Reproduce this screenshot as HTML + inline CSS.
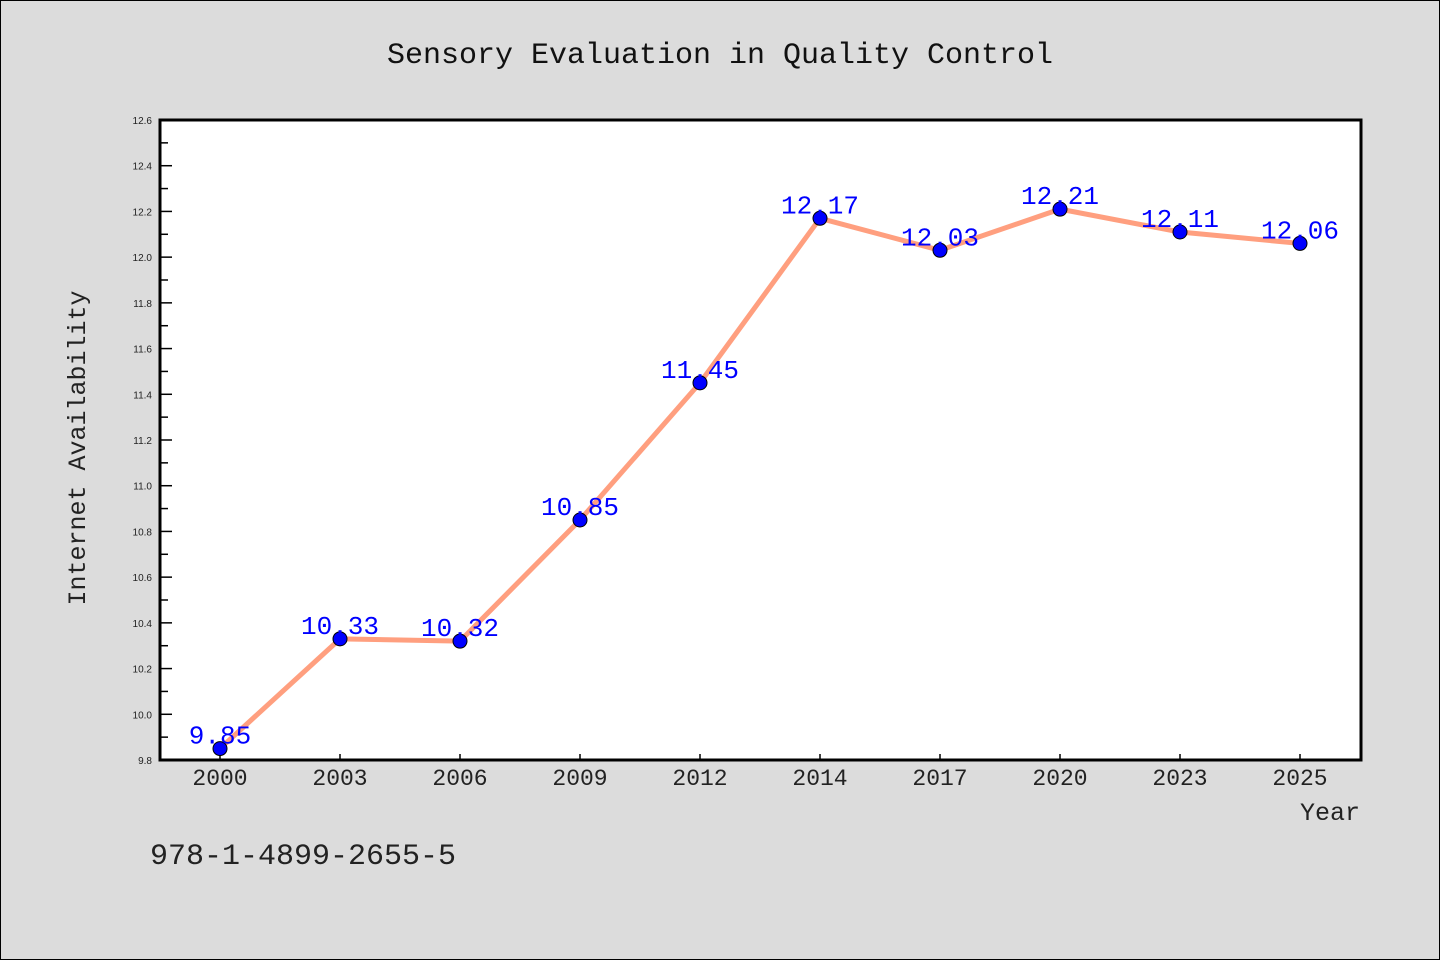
<!DOCTYPE html>
<html><head><meta charset="utf-8"><style>
html,body{margin:0;padding:0;background:#dcdcdc}
svg{display:block}
text{font-family:"Liberation Mono","DejaVu Sans Mono",monospace}
</style></head><body>
<svg id="chart" width="1440" height="960" viewBox="0 0 1440 960" xmlns="http://www.w3.org/2000/svg">
<rect x="0.5" y="0.5" width="1439" height="959" fill="#dcdcdc" stroke="#000" stroke-width="1"/>
<text x="720" y="63" text-anchor="middle" font-size="30" fill="#111">Sensory Evaluation in Quality Control</text>
<rect x="160" y="120" width="1201" height="640" fill="#fff"/>
<g id="yaxis"></g>
<g id="xaxis"></g>
<g id="series"></g>
<rect x="160" y="120" width="1201" height="640" fill="none" stroke="#000" stroke-width="3"/>
<text transform="translate(85,448) rotate(-90)" text-anchor="middle" font-size="25" fill="#222">Internet Availability</text>
<text x="1360" y="820" text-anchor="end" font-size="25" fill="#222">Year</text>
<text x="150" y="864" font-size="30" fill="#222">978-1-4899-2655-5</text>
</svg>
<script>
const categories=["2000","2003","2006","2009","2012","2014","2017","2020","2023","2025"];
const values=[9.85,10.33,10.32,10.85,11.45,12.17,12.03,12.21,12.11,12.06];
const yTicks=[9.8,10.0,10.2,10.4,10.6,10.8,11.0,11.2,11.4,11.6,11.8,12.0,12.2,12.4,12.6];
const yMin=9.8,yMax=12.6;
const L=160,R=1361,T=120,B=760;
const NS="http://www.w3.org/2000/svg";
function xs(i){return 220+i*120;}
function ys(v){return B-(v-yMin)/(yMax-yMin)*(B-T);}
function mk(tag,attrs,parent){const e=document.createElementNS(NS,tag);for(const k in attrs)e.setAttribute(k,attrs[k]);parent.appendChild(e);return e;}
const ya=document.getElementById('yaxis'),xa=document.getElementById('xaxis'),sg=document.getElementById('series');
yTicks.forEach((t,i)=>{
  const y=ys(t);
  const ln=mk('line',{x1:L,x2:L+12,y1:y,y2:y,stroke:'#000','stroke-width':1.5},ya);
  
  
  const tx=mk('text',{x:152,y:y+4,'text-anchor':'end','font-size':10,fill:'#222'},ya);
  tx.setAttribute('style','font-family:"Liberation Sans",sans-serif');
  tx.textContent=t.toFixed(1);
  
  
  if(i<yTicks.length-1){
    const ym=ys(t+0.1);
    const mn=mk('line',{x1:L,x2:L+8,y1:ym,y2:ym,stroke:'#000','stroke-width':1.5},ya);
    
    
  }
});
categories.forEach((c,i)=>{
  const x=xs(i);
  const ln=mk('line',{x1:x,x2:x,y1:B,y2:B-6,stroke:'#000','stroke-width':1.5},xa);
  
  
  const tx=mk('text',{x:x,y:785,'text-anchor':'middle','font-size':23,fill:'#222'},xa);
  tx.textContent=c;
  
  
});
const pts=values.map((v,i)=>xs(i)+','+ys(v)).join(' ');
const pl=mk('polyline',{points:pts,fill:'none',stroke:'#ff9f7f','stroke-width':5,'stroke-linejoin':'round'},sg);


values.forEach((v,i)=>{
  const c=mk('circle',{cx:xs(i),cy:ys(v),r:7,fill:'#0000ff',stroke:'#000','stroke-width':1},sg);
  
  
  const t=mk('text',{x:xs(i),y:ys(v)-5,'text-anchor':'middle','font-size':26,fill:'#0000ff'},sg);
  t.textContent=v.toFixed(2);
  
  
});
</script>
</body></html>
